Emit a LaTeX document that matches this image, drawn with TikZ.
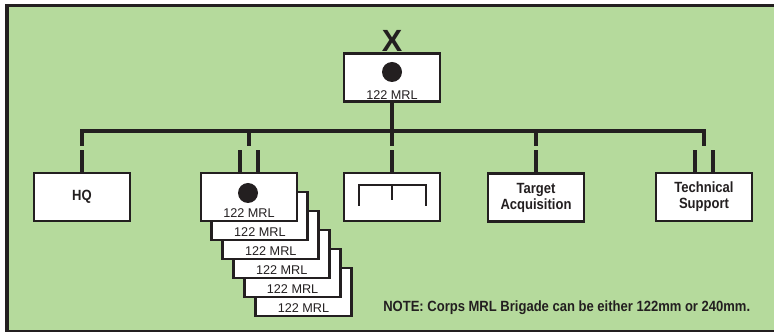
\documentclass[tikz,border=0pt]{standalone}
\usepackage{fontspec}
\setmainfont{Liberation Sans}
\newfontfamily\narrowsf{Liberation Sans}[FakeStretch=0.88]
\usetikzlibrary{calc}
\definecolor{cInk}  {HTML}{231F20}
\definecolor{cField}{HTML}{B5DA9C}
\tikzset{
  unit/.style  ={draw=cInk,fill=white,line width=2.2pt,minimum width=72pt,
                 minimum height=36pt,inner sep=0pt,text=cInk},
  lbl/.style   ={font=\narrowsf\bfseries\fontsize{11.1}{12}\selectfont,align=center,text=cInk},
  mrl/.style   ={font=\fontsize{9.5}{11}\selectfont,inner sep=0pt,text=cInk},
  dot/.style   ={circle,fill=cInk,minimum size=15pt,inner sep=0pt},
  bus/.style   ={draw=cInk,line width=2.9pt},
  sym/.style   ={draw=cInk,line width=1.6pt},
}

\begin{document}
\begin{tikzpicture}[x=0.75pt, y=-0.75pt]
\useasboundingbox (0,0) rectangle (775,334);

% ===== frame ===============================================================
\fill[cField] (7,5.5) rectangle (774,331);
\draw[cInk,line width=3pt]   (7,331) -- (7,5.5);
\draw[cInk,line width=2.2pt] (5,5.5) -- (774,5.5);
\draw[cInk,line width=1.4pt] (5,331) -- (774,331);

% ===== brigade =============================================================
\node[unit] (brig) at (392,77.5) {};
\node[dot] (brigdot) at (392,72) {};
\node[mrl] (brigtxt) at (392,95) {122 MRL};
\node[font=\bfseries\fontsize{23}{23}\selectfont,text=cInk,inner sep=0pt] (brigx) at (392,41) {X};

% ===== subordinate units ===================================================
\node[unit,lbl] (hq)  at (82,197)  {HQ};
\node[unit]     (eng) at (392,197) {};
\node[unit,lbl] (ta)  at (536,197.5) {Target\\Acquisition};
\node[unit,lbl] (ts)  at (704,197) {Technical\\Support};

\draw[sym] ([shift={(-33,9)}]eng.center) |- ([shift={(34,-12)}]eng.center)
           -- ([shift={(34,9)}]eng.center);
\draw[sym] ([shift={(0,-12)}]eng.center) -- ([shift={(0,3)}]eng.center);

% battalions, stacked from the back
\foreach \i in {5,4,...,1}{%
  \node[unit] (bn\i) at ({249+10.9*\i},{197+19*\i}) {};
  \node[mrl] (bnt\i) at ({249+10.9*\i},{213+19*\i}) {122 MRL};
}
\node[unit] (bn0) at (249,197) {};
\node[dot] (bndot) at (248,193) {};
\node[mrl] (bnt0) at (249,213) {122 MRL};

% ===== command lines =======================================================
\coordinate (bar) at (0,131);
\draw[bus,line cap=rect] (hq.north |- bar) -- (ts.north |- bar);
\draw[bus] (brig.south) -- (brig.south |- bar);
\foreach \n in {hq,eng,ta}{
  \draw[bus] (\n.north |- bar) -- ++(0,15);
  \draw[bus] (\n.north) -- ++(0,-22);
}
\foreach \n in {bn0,ts}{
  \draw[bus] (\n.north |- bar) -- ++(0,15);
  \draw[bus] ($(\n.north)+(-9,0)$) -- ++(0,-22);
  \draw[bus] ($(\n.north)+(9,0)$)  -- ++(0,-22);
}

\node[lbl,anchor=base west,inner sep=0pt] (note) at (383,312)
  {NOTE: Corps MRL Brigade can be either 122mm or 240mm.};
\end{tikzpicture}
\end{document}
